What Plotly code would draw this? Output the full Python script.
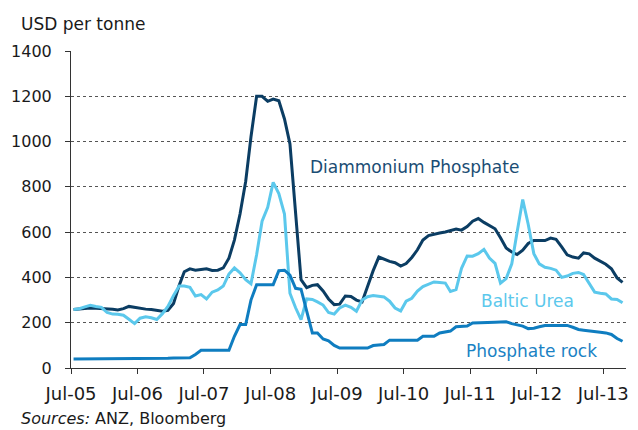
import pandas as pd
import plotly.graph_objects as go

# Mid-month observations, Jul-2005 to Oct-2013 (USD per tonne)
months = pd.date_range("2005-07-01", "2013-10-01", freq="MS") + pd.Timedelta(days=14)

dap = [
    258, 260, 264, 265, 264, 263, 262, 259, 256, 262, 272, 268,     # Jul-05 .. Jun-06
    262, 260, 258, 255, 251, 255, 285, 365, 425, 438, 432, 435,     # Jul-06 .. Jun-07
    438, 431, 432, 442, 485, 565, 680, 824, 1020, 1200, 1200, 1178,  # Jul-07 .. Jun-08
    1188, 1180, 1100, 990, 700, 390, 355, 365, 368, 340, 305, 280,   # Jul-08 .. Jun-09
    282, 318, 316, 300, 292, 360, 430, 490, 480, 471, 465, 450,     # Jul-09 .. Jun-10
    461, 488, 522, 565, 585, 592, 596, 601, 607, 614, 609, 625,     # Jul-10 .. Jun-11
    648, 660, 643, 630, 615, 575, 530, 512, 501, 520, 550, 563,     # Jul-11 .. Jun-12
    562, 563, 574, 568, 535, 500, 490, 485, 508, 504, 485, 472,     # Jul-12 .. Jun-13
    458, 438, 398, 378,                                             # Jul-13 .. Oct-13
]

urea = [
    258, 262, 270, 277, 272, 268, 245, 238, 237, 233, 215, 196,
    220, 226, 222, 214, 240, 272, 320, 362, 362, 356, 318, 324,
    305, 335, 345, 362, 415, 442, 420, 390, 372, 500, 648, 710,
    820, 770, 680, 330, 266, 214, 305, 303, 292, 278, 245, 238,
    265, 278, 268, 251, 300, 315, 320, 318, 314, 295, 265, 252,
    295, 308, 340, 360, 372, 380, 378, 375, 338, 346, 440, 495,
    494, 505, 524, 486, 462, 375, 395, 460, 600, 744, 635, 505,
    460, 445, 440, 432, 400, 406, 418, 422, 413, 372, 335, 330,
    327, 305, 303, 288,
]

rock = [
    40, 40, 40, 40, 40, 41, 41, 41, 41, 42, 42, 42,
    42, 42, 43, 43, 43, 43, 44, 44, 44, 45, 60, 78,
    78, 78, 78, 78, 78, 140, 192, 192, 300, 368, 368, 368,
    368, 430, 432, 410, 352, 348, 250, 155, 155, 128, 120, 100,
    88, 88, 88, 88, 88, 88, 99, 102, 104, 123, 123, 123,
    123, 123, 123, 140, 140, 140, 155, 160, 163, 182, 184, 185,
    199, 199, 199, 200, 202, 203, 204, 196, 192, 185, 174, 176,
    182, 188, 188, 188, 188, 188, 180, 170, 167, 165, 162, 158,
    155, 148, 130, 118,
]

series = [
    ("Diammonium Phosphate", dap, "#0B3D63"),
    ("Baltic Urea", urea, "#5BC8EC"),
    ("Phosphate rock", rock, "#0F7DC0"),
]

FONT = "DejaVu Sans"

fig = go.Figure()
for name, vals, col in series:
    fig.add_trace(go.Scatter(
        x=months, y=vals, name=name, mode="lines",
        line=dict(color=col, width=3), showlegend=False,
    ))

# In-chart series labels
labels = [
    ("Diammonium Phosphate", 0.4265, 889, "#1A4D74"),
    ("Baltic Urea", 0.7348, 294, "#5BC8EC"),
    ("Phosphate rock", 0.7073, 77, "#1A82C4"),
]
for text, xp, yv, col in labels:
    fig.add_annotation(
        x=xp, xref="paper", y=yv, yref="y", text=text, showarrow=False,
        xanchor="left", yanchor="middle",
        font=dict(family=FONT, size=17, color=col),
    )

# Unit caption above the value axis and source note below the date axis
fig.add_annotation(
    x=-52 / 558, xref="paper", y=1 + 27 / 317, yref="paper",
    text="USD per tonne", showarrow=False, xanchor="left", yanchor="middle",
    font=dict(family=FONT, size=17, color="#1a1a1a"),
)
fig.add_annotation(
    x=-52 / 558, xref="paper", y=-(430 - 368) / 317, yref="paper",
    text="<i>Sources:</i> ANZ, Bloomberg", showarrow=False,
    xanchor="left", yanchor="bottom",
    font=dict(family=FONT, size=16, color="#1a1a1a"),
)

fig.update_layout(
    width=638, height=430,
    margin=dict(l=71, r=9, t=51, b=62),
    paper_bgcolor="white", plot_bgcolor="white",
    font=dict(family=FONT, color="#1a1a1a"),
)
fig.update_xaxes(
    range=["2005-07-01", "2013-11-03"],
    tick0="2005-07-01", dtick="M12", tickformat="%b-%y",
    showgrid=False, zeroline=False,
    showline=True, linecolor="#333333", linewidth=1,
    ticks="outside", ticklen=5, tickcolor="#333333",
    ticklabelstandoff=4,
    tickfont=dict(family=FONT, size=18, color="#1a1a1a"),
)
fig.update_yaxes(
    range=[0, 1400], dtick=200, tick0=0,
    showgrid=True, gridcolor="#555555", griddash="dot", gridwidth=1,
    zeroline=False,
    showline=True, linecolor="#333333", linewidth=1,
    ticks="outside", ticklen=5, tickcolor="#333333",
    ticklabelstandoff=10,
    tickfont=dict(family=FONT, size=16, color="#1a1a1a"),
)

fig.write_html("out.html")
